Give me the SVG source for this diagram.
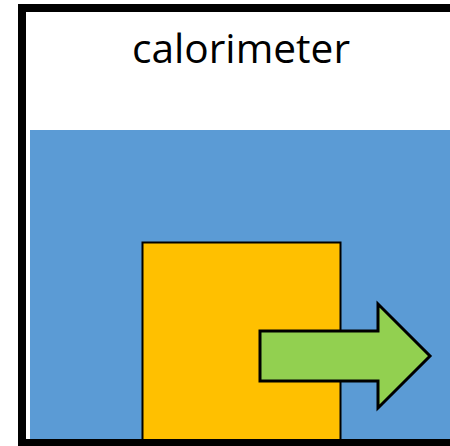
<svg xmlns="http://www.w3.org/2000/svg" width="450" height="446" viewBox="0 0 450 446">
<style>
.lbl{font-family:"Open Sans","Liberation Sans",sans-serif;font-size:40px;fill:#000}
</style>
<rect width="450" height="446" fill="#fff"/>
<g id="water"><rect x="30" y="130" width="430" height="312" fill="#5B9BD5"/></g>
<g id="block"><rect x="142.5" y="242.5" width="198" height="200" fill="#FFC000" stroke="#000" stroke-width="2"/></g>
<g id="connectors"><polygon points="260,331 378,331 378,304 430,356 378,408 378,381 260,381" fill="#92D050" stroke="#000" stroke-width="3" stroke-linejoin="miter"/></g>
<g id="calorimeter"><rect x="22" y="8" width="450" height="435" fill="none" stroke="#000" stroke-width="8"/>
<text class="lbl" x="132" y="63" textLength="218" lengthAdjust="spacingAndGlyphs">calorimeter</text></g>
</svg>
